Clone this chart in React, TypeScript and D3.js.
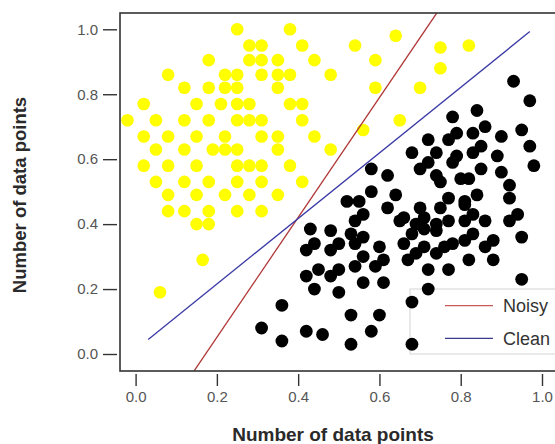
import { useEffect, useRef } from "react";
import * as d3 from "d3";

const xTicks = [0, 0.2, 0.4, 0.6, 0.8, 1.0];
const yTicks = [0, 0.2, 0.4, 0.6, 0.8, 1.0];

// class 1 (yellow) points
const yellowPoints: [number, number][] = [
  [0.25, 1.0], [0.38, 1.0], [0.64, 0.98],
  [0.28, 0.95], [0.31, 0.95], [0.41, 0.95], [0.54, 0.95], [0.75, 0.944], [0.82, 0.95],
  [0.18, 0.905], [0.28, 0.905], [0.31, 0.905], [0.35, 0.905], [0.44, 0.905], [0.59, 0.905],
  [0.75, 0.88],
  [0.08, 0.86], [0.22, 0.86], [0.25, 0.86], [0.31, 0.86], [0.35, 0.86], [0.38, 0.86], [0.48, 0.86],
  [0.12, 0.82], [0.18, 0.82], [0.22, 0.82], [0.25, 0.82], [0.35, 0.82], [0.59, 0.82], [0.7, 0.82],
  [0.02, 0.77], [0.15, 0.77], [0.21, 0.77], [0.25, 0.77], [0.28, 0.77], [0.38, 0.77], [0.41, 0.77],
  [-0.02, 0.72], [0.05, 0.72], [0.12, 0.72], [0.18, 0.72], [0.25, 0.72], [0.28, 0.72], [0.31, 0.72], [0.41, 0.72], [0.65, 0.72],
  [0.56, 0.69],
  [0.02, 0.67], [0.08, 0.67], [0.15, 0.67], [0.22, 0.67], [0.31, 0.67], [0.35, 0.67], [0.44, 0.67],
  [0.05, 0.63], [0.12, 0.63], [0.19, 0.63], [0.22, 0.63], [0.25, 0.63], [0.35, 0.63], [0.48, 0.63],
  [0.02, 0.58], [0.08, 0.58], [0.15, 0.58], [0.25, 0.58], [0.28, 0.58], [0.31, 0.58], [0.38, 0.58],
  [0.05, 0.53], [0.12, 0.53], [0.18, 0.53], [0.25, 0.53], [0.31, 0.53], [0.41, 0.53],
  [0.08, 0.49], [0.15, 0.49], [0.22, 0.49], [0.28, 0.49], [0.35, 0.49],
  [0.08, 0.44], [0.12, 0.44], [0.18, 0.44], [0.25, 0.44], [0.31, 0.44],
  [0.15, 0.4], [0.18, 0.4],
  [0.165, 0.29], [0.06, 0.19],
];

// class 2 (black) points
const blackPoints: [number, number][] = [
  [0.93, 0.84], [0.97, 0.78], [0.84, 0.75], [0.78, 0.73], [0.95, 0.69], [0.9, 0.67],
  [0.86, 0.7], [0.83, 0.68], [0.79, 0.68], [0.77, 0.66], [0.72, 0.66], [0.97, 0.64],
  [0.68, 0.62], [0.85, 0.64], [0.83, 0.62], [0.89, 0.61], [0.74, 0.62], [0.72, 0.59],
  [0.79, 0.61], [0.78, 0.59], [0.98, 0.58], [0.7, 0.57], [0.85, 0.57], [0.9, 0.56],
  [0.74, 0.55], [0.75, 0.53], [0.8, 0.54], [0.82, 0.54], [0.92, 0.52], [0.92, 0.48],
  [0.84, 0.49], [0.81, 0.47], [0.81, 0.46], [0.77, 0.48], [0.75, 0.45], [0.7, 0.45],
  [0.83, 0.43], [0.81, 0.41], [0.86, 0.41], [0.94, 0.43], [0.92, 0.41], [0.77, 0.41],
  [0.74, 0.4], [0.71, 0.42], [0.69, 0.4], [0.66, 0.42],
  [0.58, 0.57], [0.62, 0.55], [0.58, 0.5], [0.64, 0.49], [0.52, 0.47], [0.55, 0.47],
  [0.62, 0.45], [0.65, 0.41], [0.56, 0.43], [0.54, 0.41],
  [0.43, 0.385], [0.48, 0.38], [0.53, 0.37], [0.56, 0.36], [0.54, 0.34], [0.6, 0.33],
  [0.44, 0.34], [0.42, 0.32], [0.5, 0.34], [0.48, 0.32],
  [0.66, 0.34], [0.68, 0.37], [0.71, 0.385], [0.74, 0.38],
  [0.88, 0.35], [0.86, 0.33], [0.82, 0.29], [0.88, 0.29], [0.78, 0.34], [0.76, 0.33],
  [0.74, 0.31], [0.81, 0.35], [0.83, 0.37], [0.71, 0.33], [0.69, 0.31], [0.67, 0.29],
  [0.72, 0.26], [0.77, 0.26], [0.61, 0.29], [0.59, 0.27], [0.56, 0.3], [0.54, 0.27],
  [0.45, 0.26], [0.42, 0.24], [0.5, 0.26], [0.48, 0.24], [0.44, 0.2], [0.5, 0.19],
  [0.56, 0.22], [0.61, 0.22], [0.72, 0.2], [0.68, 0.16], [0.95, 0.23], [0.95, 0.36],
  [0.36, 0.15], [0.53, 0.12], [0.6, 0.12], [0.58, 0.07], [0.42, 0.07], [0.46, 0.06],
  [0.36, 0.04], [0.53, 0.03], [0.68, 0.03], [0.31, 0.08],
];

const noisyLine: [number, number][] = [[0.144, -0.052], [0.741, 1.05]];
const cleanLine: [number, number][] = [[0.031, 0.045], [0.97, 0.993]];

const legendItems = [
  { name: "Noisy", color: "#b03636", legendColor: "#c85a5a" },
  { name: "Clean", color: "#3a3aa6", legendColor: "#3a3a8a" },
];

const FONT = "'Liberation Sans', Arial, Helvetica, sans-serif";

export default function App() {
  const ref = useRef<SVGSVGElement>(null);

  useEffect(() => {
    const width = 555;
    const height = 444;
    const box = { left: 120, top: 13, right: 600, bottom: 371 };

    const svg = d3.select(ref.current);
    svg.selectAll("*").remove();

    const x = d3.scaleLinear().domain([0, 1]).range([135.6, 542]);
    const y = d3.scaleLinear().domain([0, 1]).range([354, 29.3]);

    svg
      .append("defs")
      .append("clipPath")
      .attr("id", "plot-clip")
      .append("rect")
      .attr("x", box.left)
      .attr("y", box.top)
      .attr("width", box.right - box.left)
      .attr("height", box.bottom - box.top);

    // legend sits under the points
    const lg = svg.append("g");
    lg.append("rect")
      .attr("x", 410)
      .attr("y", 289)
      .attr("width", 200)
      .attr("height", 65)
      .attr("fill", "#fff")
      .attr("stroke", "#d4d4d4");
    legendItems.forEach((s, i) => {
      const ly = 305.7 + i * 32.6;
      lg.append("line")
        .attr("x1", 445)
        .attr("x2", 493)
        .attr("y1", ly)
        .attr("y2", ly)
        .attr("stroke", s.legendColor)
        .attr("stroke-width", 1.3);
      lg.append("text")
        .attr("x", 503)
        .attr("y", ly)
        .attr("dy", "0.36em")
        .attr("font-family", FONT)
        .attr("font-size", 18)
        .attr("fill", "#333")
        .text(s.name);
    });

    svg
      .append("g")
      .selectAll("circle")
      .data(yellowPoints)
      .join("circle")
      .attr("cx", (d) => x(d[0]))
      .attr("cy", (d) => y(d[1]))
      .attr("r", 6.3)
      .attr("fill", "#ffff00");

    svg
      .append("g")
      .selectAll("circle")
      .data(blackPoints)
      .join("circle")
      .attr("cx", (d) => x(d[0]))
      .attr("cy", (d) => y(d[1]))
      .attr("r", 6.4)
      .attr("fill", "#000");

    const line = d3
      .line<[number, number]>()
      .x((d) => x(d[0]))
      .y((d) => y(d[1]));

    const lines = svg.append("g").attr("clip-path", "url(#plot-clip)");
    lines
      .append("path")
      .datum(noisyLine)
      .attr("fill", "none")
      .attr("stroke", legendItems[0].color)
      .attr("stroke-width", 1.3)
      .attr("d", line);
    lines
      .append("path")
      .datum(cleanLine)
      .attr("fill", "none")
      .attr("stroke", legendItems[1].color)
      .attr("stroke-width", 1.3)
      .attr("d", line);

    svg
      .append("rect")
      .attr("x", box.left)
      .attr("y", box.top)
      .attr("width", box.right - box.left)
      .attr("height", box.bottom - box.top)
      .attr("fill", "none")
      .attr("stroke", "#333")
      .attr("stroke-width", 1.6);

    const styleAxis = (g: any) => {
      g.select(".domain").remove();
      g.selectAll(".tick line").attr("stroke", "#333").attr("stroke-width", 1.4);
      g.selectAll(".tick text").attr("fill", "#555");
      g.attr("font-family", FONT).attr("font-size", 15);
    };

    svg
      .append("g")
      .attr("transform", "translate(117,0)")
      .call(
        d3.axisLeft(y).tickValues(yTicks).tickFormat(d3.format(".1f")).tickSize(14).tickPadding(5)
      )
      .call(styleAxis);

    svg
      .append("g")
      .attr("transform", "translate(0,374)")
      .call(
        d3.axisBottom(x).tickValues(xTicks).tickFormat(d3.format(".1f")).tickSize(12).tickPadding(5)
      )
      .call(styleAxis);

    svg
      .append("text")
      .attr("x", 333)
      .attr("y", 441)
      .attr("text-anchor", "middle")
      .attr("font-family", FONT)
      .attr("font-weight", "bold")
      .attr("font-size", 19)
      .attr("fill", "#2a2a2a")
      .text("Number of data points");

    svg
      .append("text")
      .attr("transform", "translate(26,195) rotate(-90)")
      .attr("text-anchor", "middle")
      .attr("font-family", FONT)
      .attr("font-weight", "bold")
      .attr("font-size", 18.5)
      .attr("fill", "#2a2a2a")
      .text("Number of data points");

    svg.attr("width", width).attr("height", height);
  }, []);

  return (
    <svg
      ref={ref}
      width={555}
      height={444}
      style={{ position: "absolute", left: 0, top: 0, background: "#fff" }}
    />
  );
}
